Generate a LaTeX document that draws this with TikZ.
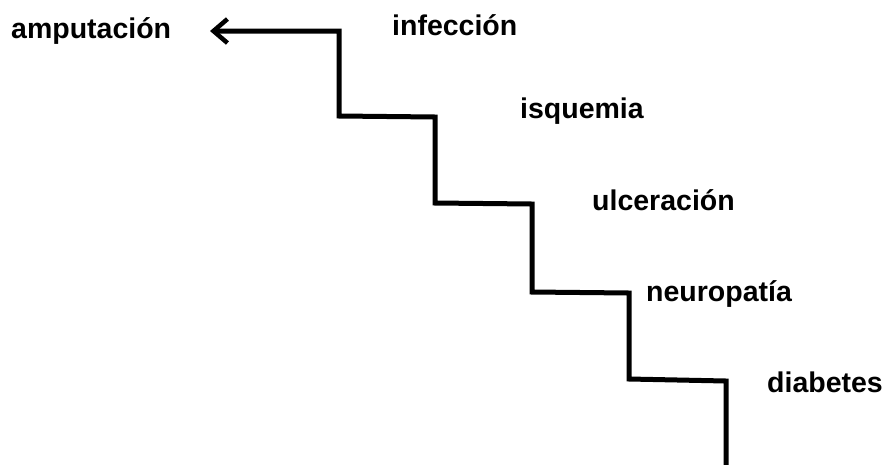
\documentclass[tikz,border=0pt]{standalone}
\usepackage{fontspec}
\setmainfont{Liberation Sans}
\usetikzlibrary{arrows.meta}
\begin{document}
\begin{tikzpicture}[x=1pt,y=-1pt,
  lbl/.style={anchor=base west,inner sep=0pt,font=\fontsize{28.5}{31}\selectfont\bfseries},
  stair/.style={line width=5pt,line join=miter,-{Straight Barb[length=14pt,width=24pt,line width=4.5pt]}}]
\useasboundingbox (0,0) rectangle (885,464);
\node[lbl] (amp) at (11,38) {amputación};
\node[lbl] (inf) at (392,35) {infección};
\node[lbl] (isq) at (520,118) {isquemia};
\node[lbl] (ulc) at (592,210) {ulceración};
\node[lbl] (neu) at (646,301) {neuropatía};
\node[lbl] (dia) at (767,392) {diabetes};
\coordinate (s0) at (726,470);
\coordinate (s1) at (726,381);
\coordinate (s2) at (629,379);
\coordinate (s3) at (629,293);
\coordinate (s4) at (532,292);
\coordinate (s5) at (532,204);
\coordinate (s6) at (435,203);
\coordinate (s7) at (435,117);
\coordinate (s8) at (339,116);
\coordinate (s9) at (339,31);
\coordinate (tip) at (210,31);
\draw[stair] (s0) -- (s1) -- (s2) -- (s3) -- (s4) -- (s5) -- (s6) -- (s7) -- (s8) -- (s9) -- (tip);
\end{tikzpicture}
\end{document}
